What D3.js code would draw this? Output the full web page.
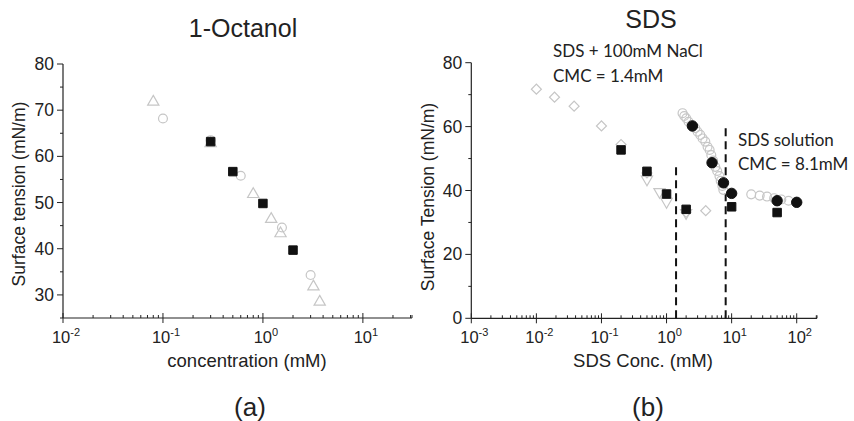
<!DOCTYPE html>
<html><head><meta charset="utf-8">
<script src="https://cdn.jsdelivr.net/npm/d3@7"></script>
<style>body{margin:0;background:#fff}svg{display:block}text{font-family:"Liberation Sans",Arial,sans-serif;fill:#222}</style>
</head><body><svg id="c" width="854" height="421"></svg>
<script>
// ---- Panel (a): 1-Octanol ----
const octTriX = [0.08, 0.3, 0.8, 1.21, 1.5, 3.2, 3.7];
const octTriY = [71.8, 62.8, 51.8, 46.4, 43.3, 31.8, 28.5];
const octCircX = [0.1, 0.3, 0.6, 1.55, 3.0];
const octCircY = [68.2, 63.5, 55.8, 44.6, 34.3];
const octSqX = [0.3, 0.5, 1.0, 2.0];
const octSqY = [63.2, 56.7, 49.8, 39.7];
const octXTicks = [-2, -1, 0, 1];
const octYTicks = [30, 40, 50, 60, 70, 80];

// ---- Panel (b): SDS ----
const nlDiaX = [0.01, 0.019, 0.038, 0.1, 0.2, 0.5, 2.0, 4.0];
const nlDiaY = [71.7, 69.2, 66.4, 60.2, 54.4, 45.5, 33.2, 33.7];
const nlTriX = [0.5, 0.78, 1.0, 2.0];
const nlTriY = [43.5, 39.6, 36.5, 33.0];
const nlSqX = [0.2, 0.5, 1.0, 2.0, 10, 50];
const nlSqY = [52.7, 46.0, 38.9, 34.1, 34.9, 33.1];
const sdsCircX = [1.76, 1.87, 2.01, 2.18, 2.4, 2.77, 3.0, 3.3, 3.58, 3.94, 4.27, 4.59, 4.87, 5.2, 5.6, 6.0, 6.5, 6.8, 7.2, 7.45, 20, 27, 35, 45, 58, 75];
const sdsCircY = [64.2, 63.3, 62.6, 61.5, 60.5, 59.5, 58.4, 57.4, 56.3, 55.3, 53.7, 52.7, 51.1, 49.4, 47.4, 46.1, 44.5, 43.0, 41.4, 40.2, 38.8, 38.4, 38.1, 37.6, 37.2, 36.8];
const sdsFillX = [2.5, 5.0, 7.5, 10, 50, 100];
const sdsFillY = [60.2, 48.7, 42.4, 39.1, 36.8, 36.3];
const cmcX = [1.4, 8.1];
const cmcTop = [48.5, 59.8];
const sdsXTicks = [-3, -2, -1, 0, 1, 2];
const sdsYTicks = [0, 20, 40, 60, 80];

const svg = d3.select("#c");
const gray = "#c6c6c6", black = "#111";

function logAxis(g, x, y0, exps, dmin, dmax) {
  const ax = g.append("g");
  ax.append("line").attr("x1", x(dmin)).attr("x2", x(dmax)).attr("y1", y0).attr("y2", y0).attr("stroke", "#222").attr("stroke-width", 1.2);
  const lo = Math.floor(Math.log10(dmin)), hi = Math.ceil(Math.log10(dmax));
  for (let e = lo; e <= hi; e++) for (let m = 2; m <= 9; m++) {
    const v = m * Math.pow(10, e);
    if (v <= dmin || v >= dmax) continue;
    ax.append("line").attr("x1", x(v)).attr("x2", x(v)).attr("y1", y0).attr("y2", y0 - 3).attr("stroke", "#222");
  }
  ax.append("line").attr("x1", x(dmax)).attr("x2", x(dmax)).attr("y1", y0).attr("y2", y0 - 3).attr("stroke", "#222");
  exps.forEach(e => {
    const v = Math.pow(10, e);
    ax.append("line").attr("x1", x(v)).attr("x2", x(v)).attr("y1", y0 - 5).attr("y2", y0 + 5).attr("stroke", "#222");
    const t = ax.append("text").attr("x", x(v) + 3).attr("y", y0 + 25).attr("text-anchor", "middle").style("font-size", "16.5px");
    t.append("tspan").text("10");
    t.append("tspan").attr("dy", -7).style("font-size", "11px").text(String(e));
  });
}
function linAxis(g, y, x0, ticks, minorStep, dmin, dmax) {
  const ax = g.append("g");
  ax.append("line").attr("x1", x0).attr("x2", x0).attr("y1", y(dmin)).attr("y2", y(dmax)).attr("stroke", "#222").attr("stroke-width", 1.2);
  for (let v = dmin; v <= dmax + 1e-9; v += minorStep) {
    if (ticks.includes(v)) continue;
    ax.append("line").attr("x1", x0).attr("x2", x0 - 3).attr("y1", y(v)).attr("y2", y(v)).attr("stroke", "#222");
  }
  ticks.forEach(v => {
    ax.append("line").attr("x1", x0).attr("x2", x0 - 6).attr("y1", y(v)).attr("y2", y(v)).attr("stroke", "#222");
    ax.append("text").attr("x", x0 - 9).attr("y", y(v) + 6).attr("text-anchor", "end").style("font-size", "17.5px").text(v);
  });
}
const sym = (type, size) => d3.symbol().type(type).size(size)();
function pts(g, xs, ys, x, y, shape, size, fill, stroke, rot) {
  g.selectAll(null).data(xs.map((d, i) => [d, ys[i]])).join("path")
    .attr("d", sym(shape, size))
    .attr("transform", d => `translate(${x(d[0])},${y(d[1])})` + (rot ? ` rotate(${rot})` : ""))
    .attr("fill", fill).attr("stroke", stroke).attr("stroke-width", fill === "none" ? 1.2 : 1);
}

// Panel a
const xa = d3.scaleLog().domain([0.01, 31]).range([63, 412]);
const ya = d3.scaleLinear().domain([25, 80]).range([318, 64]);
const ga = svg.append("g");
logAxis(ga, xa, 318, octXTicks, 0.01, 31);
linAxis(ga, ya, 63, octYTicks, 5, 25, 80);
pts(ga, octTriX, octTriY, xa, ya, d3.symbolTriangle, 55, "none", gray);
pts(ga, octCircX, octCircY, xa, ya, d3.symbolCircle, 62, "none", gray);
pts(ga, octSqX, octSqY, xa, ya, d3.symbolSquare, 72, black, black);
ga.append("text").attr("x", 243).attr("y", 37).attr("text-anchor", "middle").style("font-size", "25px").text("1-Octanol");
ga.append("text").attr("transform", "translate(25,194) rotate(-90)").attr("text-anchor", "middle").style("font-size", "17.5px").text("Surface tension (mN/m)");
ga.append("text").attr("x", 247).attr("y", 367).attr("text-anchor", "middle").style("font-size", "18.5px").text("concentration (mM)");
ga.append("text").attr("x", 250).attr("y", 416).attr("text-anchor", "middle").style("font-size", "26px").text("(a)");

// Panel b
const xb = d3.scaleLog().domain([0.001, 205]).range([471.3, 817]);
const yb = d3.scaleLinear().domain([0, 80]).range([318.3, 62.7]);
const gb = svg.append("g");
logAxis(gb, xb, 318.3, sdsXTicks, 0.001, 205);
linAxis(gb, yb, 471.3, sdsYTicks, 10, 0, 80);
gb.selectAll(null).data(cmcX.map((d, i) => [d, cmcTop[i]])).join("line")
  .attr("x1", d => xb(d[0])).attr("x2", d => xb(d[0])).attr("y1", yb(0)).attr("y2", d => yb(d[1]))
  .attr("stroke", black).attr("stroke-width", 2).attr("stroke-dasharray", "8,5");
pts(gb, nlDiaX, nlDiaY, xb, yb, d3.symbolSquare, 50, "none", gray, 45);
pts(gb, nlTriX, nlTriY, xb, yb, d3.symbolTriangle, 55, "none", gray, 180);
pts(gb, sdsCircX, sdsCircY, xb, yb, d3.symbolCircle, 62, "none", gray);
pts(gb, nlSqX, nlSqY, xb, yb, d3.symbolSquare, 72, black, black);
pts(gb, sdsFillX, sdsFillY, xb, yb, d3.symbolCircle, 85, black, black);
gb.append("text").attr("x", 651).attr("y", 28).attr("text-anchor", "middle").style("font-size", "25px").text("SDS");
const ann = [["SDS + 100mM NaCl", 553, 57], ["CMC = 1.4mM", 553, 82], ["SDS solution", 738, 146], ["CMC = 8.1mM", 738, 170]];
ann.forEach(a => gb.append("text").attr("x", a[1]).attr("y", a[2]).style("font-family", "Lato, 'Open Sans', sans-serif").style("font-size", "17px").text(a[0]));
gb.append("text").attr("transform", "translate(434,197) rotate(-90)").attr("text-anchor", "middle").style("font-size", "17.5px").text("Surface Tension (mN/m)");
gb.append("text").attr("x", 643).attr("y", 367).attr("text-anchor", "middle").style("font-size", "18.5px").text("SDS Conc. (mM)");
gb.append("text").attr("x", 648).attr("y", 416).attr("text-anchor", "middle").style("font-size", "26px").text("(b)");
</script></body></html>
